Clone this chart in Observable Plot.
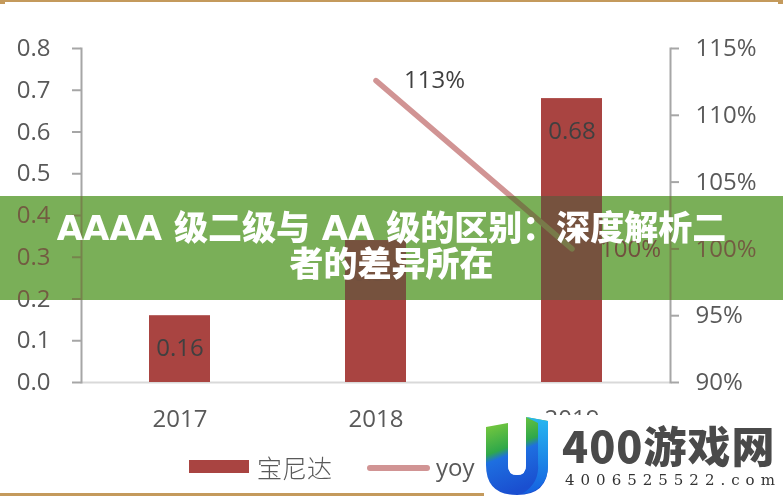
<!DOCTYPE html>
<html><head><meta charset="utf-8">
<script src="https://cdn.jsdelivr.net/npm/d3@7"></script>
<script src="https://cdn.jsdelivr.net/npm/@observablehq/plot@0.6"></script>
<style>
body{margin:0;background:#fff;}
#wrap{position:relative;width:783px;height:496px;overflow:hidden;background:#fff;font-family:"Open Sans",sans-serif;}
#wrap svg.plot{position:absolute;left:0;top:0;}
.abs{position:absolute;}
</style></head><body><div id="wrap"></div>
<script>
const years = ["2017","2018","2019"];
const salesValues = [0.16, 0.34, 0.68];
const yoyYears = ["2018","2019"];
const yoyValues = [1.126, 1.00];
const leftTicks = [0,0.1,0.2,0.3,0.4,0.5,0.6,0.7,0.8];
const rightTicks = [0.90,0.95,1.00,1.05,1.10,1.15];
const seriesNames = ["宝尼达","yoy"];
const titleLines = ["AAAA 级二级与 AA 级的区别：深度解析二","者的差异所在"];
const wmName = "400游戏网";
const wmSite = "4006525522.com";

const barColor = "#A94441", lineColor = "#D19494", tickColor = "#595959", labelColor = "#404040";

const sales = years.map((y,i)=>({year:y, v:salesValues[i]}));
const yoy = yoyYears.map((y,i)=>({year:y, v:yoyValues[i]}));
const toLeft = d3.scaleLinear().domain([0.90,1.15]).range([0,0.8]);

const plot = Plot.plot({
  width:783, height:496, marginLeft:81, marginRight:113, marginTop:48, marginBottom:114,
  style:{fontFamily:"Open Sans", fontSize:"24px", color:tickColor, background:"transparent"},
  x:{domain:years, paddingInner:0.69, paddingOuter:0.345, align:0.5, axis:null},
  y:{domain:[0,0.8], axis:null},
  marks:[
    Plot.ruleY([0], {stroke:"#d9d9d9", strokeWidth:2}),
    Plot.barY(sales, {x:"year", y:"v", fill:barColor}),
    Plot.line(yoy, {x:"year", y:d=>toLeft(d.v), stroke:lineColor, strokeWidth:5.5, strokeLinecap:"round"}),
    Plot.text(sales, {x:"year", y:"v", text:d=>d.v.toFixed(2), dy:33, fill:labelColor, fontSize:24}),
    Plot.text(yoy, {x:"year", y:d=>toLeft(d.v), text:d=>Math.round(d.v*100)+"%", dx:28, textAnchor:"start", fill:labelColor, fontSize:24}),
    Plot.axisY(leftTicks, {anchor:"left", tickSize:9, tickPadding:22, stroke:"#a6a6a6", strokeWidth:2, fill:tickColor, tickFormat:d=>d.toFixed(1), fontSize:24, label:null}),
    Plot.axisY(rightTicks.map(toLeft), {anchor:"right", tickSize:8, tickPadding:17, stroke:"#a6a6a6", strokeWidth:2, fill:tickColor, tickFormat:d=>Math.round(toLeft.invert(d)*100)+"%", fontSize:24, label:null}),
    Plot.axisX(years, {anchor:"bottom", tickSize:0, tickPadding:27, fill:tickColor, fontSize:24, label:null}),
    Plot.frame({anchor:"left", stroke:"#a6a6a6", strokeWidth:2}),
    Plot.frame({anchor:"right", stroke:"#a6a6a6", strokeWidth:2})
  ]
});
plot.classList.add("plot");
const wrap = document.getElementById("wrap");
wrap.appendChild(plot);

function add(html){ wrap.insertAdjacentHTML("beforeend", html); }

// legend
add(`<div class="abs" style="left:189px;top:460px;width:60px;height:13px;background:${barColor}"></div>
<div class="abs" style="left:257px;top:449px;font-family:'Noto Sans CJK SC';font-weight:300;font-size:25px;line-height:36px;color:${tickColor}">${seriesNames[0]}</div>
<div class="abs" style="left:367px;top:465px;width:63px;height:6px;border-radius:3px;background:${lineColor}"></div>
<div class="abs" style="left:436px;top:449px;font-family:'Open Sans';font-size:24px;line-height:36px;color:${tickColor}">${seriesNames[1]}</div>`);

// borders
add(`<div class="abs" style="left:0;top:0;width:783px;height:2px;background:#C49A5C"></div>
<div class="abs" style="left:0;top:0;width:5px;height:4px;background:#C49A5C"></div>
<div class="abs" style="left:778px;top:0;width:5px;height:4px;background:#C49A5C"></div>
<div class="abs" style="left:0;top:493px;width:485px;height:3px;background:#C49A5C"></div>`);

// banner
add(`<div class="abs" style="left:0;top:196px;width:783px;height:104px;background:rgb(24,255,70);mix-blend-mode:multiply"></div>
<div class="abs" style="left:0;top:196px;width:783px;height:104px;background:rgba(220,96,106,0.5)"></div>
<div class="abs" style="left:0;top:196px;width:783px;height:104px;display:flex;flex-direction:column;align-items:center;justify-content:center;color:#fff;font-family:'DejaVu Sans','Noto Sans CJK SC',sans-serif;font-weight:900;font-size:34px;line-height:36px;">
<div style="white-space:nowrap;margin-top:-4px">${titleLines[0]}</div>
<div style="white-space:nowrap">${titleLines[1]}</div></div>`);

// watermark
add(`<div class="abs" style="left:484px;top:415px;width:299px;height:81px;background:#fff"></div>
<svg class="abs" style="left:486px;top:417px" width="62" height="78" viewBox="0 0 62 78">
<defs><linearGradient id="ug" x1="0" y1="0" x2="0.3" y2="1"><stop offset="0" stop-color="#8BD13A"/><stop offset="0.45" stop-color="#2FA84A"/><stop offset="0.55" stop-color="#1E6FE0"/><stop offset="1" stop-color="#1A4FD0"/></linearGradient>
<linearGradient id="ub" x1="0" y1="0" x2="0" y2="1"><stop offset="0" stop-color="#27B8F0"/><stop offset="1" stop-color="#1560E0"/></linearGradient></defs>
<path d="M0,10 L22,6 L22,48 Q22,58 31,58 Q40,58 40,48 L40,0 L62,4 L62,48 Q62,78 31,78 Q0,78 0,48 Z" fill="url(#ug)"/>
<path d="M40,0 L62,4 L62,48 Q62,74 36,77 Q54,66 52,46 L52,6 Z" fill="url(#ub)"/>
<path d="M22,6 L40,0 L40,48 Q40,58 31,58 Q22,58 22,48 Z" fill="#fff"/>
</svg>
<div class="abs" style="left:562px;top:418px;font-family:'Noto Sans CJK SC';font-weight:900;font-size:43px;line-height:52px;letter-spacing:1px;color:#4a4a4a;white-space:nowrap">${wmName}</div>
<div class="abs" style="left:565px;top:470px;font-family:'DejaVu Serif';font-size:15px;line-height:20px;letter-spacing:6px;color:#333;white-space:nowrap">${wmSite}</div>`);
</script></body></html>
